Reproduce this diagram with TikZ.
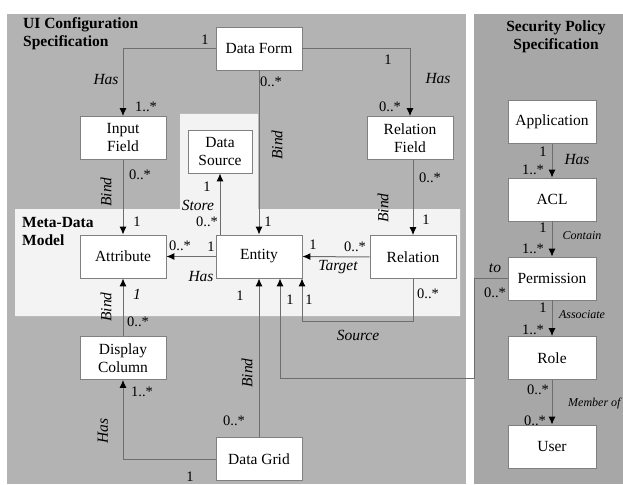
\documentclass[tikz,border=0pt]{standalone}
\usepackage{fontspec}
\setmainfont{Liberation Serif}
\usetikzlibrary{arrows.meta}
\definecolor{panelL}{HTML}{B3B3B3}
\definecolor{panelR}{HTML}{A7A7A7}
\definecolor{lightC}{HTML}{F3F3F3}
\definecolor{lineC}{HTML}{6E6E6E}
\definecolor{boxC}{HTML}{808080}
\begin{document}
\begin{tikzpicture}[x=1pt,y=-1pt,
  box/.style={draw=boxC,line width=0.8pt,fill=white,rectangle,minimum width=86pt,minimum height=43pt,inner sep=0pt,align=center,font=\fontsize{15.5}{18}\selectfont},
  conn/.style={draw=lineC,line width=1pt,-{Latex[length=8pt,width=7pt,color=black]}},
  mult/.style={inner sep=0pt,font=\fontsize{14.5}{16}\selectfont},
  lab/.style={inner sep=0pt,font=\fontsize{15.5}{16}\selectfont\itshape},
  slab/.style={inner sep=0pt,font=\fontsize{12}{14}\selectfont\itshape},
  ttl/.style={inner sep=0pt,font=\fontsize{15.5}{18}\selectfont\bfseries}]
\useasboundingbox (0,0) rectangle (623,484);
\fill[white] (0,0) rectangle (623,484);
\fill[panelL] (7,14) rectangle (466,484);
\fill[panelR] (474,14) rectangle (623,484);
\fill[lightC] (15,209) -- (180,209) -- (180,114) -- (258,114) -- (258,209) -- (460,209) -- (460,316) -- (15,316) -- cycle;

\node[ttl,anchor=west,align=left] (t1) at (23,34) {UI Configuration\\Specification};
\node[ttl,align=center] (t2) at (556,37) {Security Policy\\Specification};
\node[ttl,anchor=west,align=left] (t3) at (22,231) {Meta-Data\\Model};

\node[box] (DF) at (259,48.5) {Data Form};
\node[box] (IF) at (123,138) {Input\\Field};
\node[box,minimum width=64pt] (DS) at (220,151.5) {Data\\Source};
\node[box] (RF) at (410,138) {Relation\\Field};
\node[box] (Attr) at (123,256.5) {Attribute};
\node[box] (Ent) at (259,256.5) {Entity};
\node[box] (Rel) at (413,257) {Relation};
\node[box] (DC) at (123,358) {Display\\Column};
\node[box] (DG) at (259,459) {Data Grid};
\node[box,minimum width=88pt] (App) at (552,122) {Application};
\node[box,minimum width=88pt] (ACL) at (552,199.5) {ACL};
\node[box,minimum width=88pt] (Perm) at (552,278.5) {Permission};
\node[box,minimum width=88pt] (Role) at (552,358) {Role};
\node[box,minimum width=88pt] (User) at (552,446.5) {User};

\coordinate (srcB) at (302,321);
\coordinate (permB) at (474,378.5);
\coordinate (permC) at (280,378.5);

\draw[conn] (DF.west) -| (IF.north);
\draw[conn] (DF.east) -| (RF.north);
\draw[conn] (DF.south) -- (Ent.north);
\draw[conn] (IF.south) -- (Attr.north);
\draw[conn] (RF.south -| Rel.north) -- (Rel.north);
\draw[conn] (Ent.west) -- (Attr.east);
\draw[conn] (Ent.north -| DS.south) -- (DS.south);
\draw[conn] (Rel.west) -- (Ent.east);
\draw[conn] (Rel.south) |- (srcB) -- (srcB |- Ent.south);
\draw[conn] (Perm.west) -| (permB) -- (permC) -- (permC |- Ent.south);
\draw[conn] (DG.north) -- (Ent.south);
\draw[conn] (DG.west) -| (DC.south);
\draw[conn] (DC.north) -- (Attr.south);
\draw[conn] (App.south) -- (ACL.north);
\draw[conn] (ACL.south) -- (Perm.north);
\draw[conn] (Perm.south) -- (Role.north);
\draw[conn] (Role.south) -- (User.north);

% Data Form -> Input Field
\node[mult] (l1) at (205,40) {1};
\node[lab] (l2) at (106,80) {Has};
\node[mult] (l3) at (146,107) {1..*};
% Data Form -> Relation Field
\node[mult] (l4) at (388,60) {1};
\node[lab] (l5) at (438,79) {Has};
\node[mult] (l6) at (390,107) {0..*};
% Data Form -> Entity
\node[mult] (l7) at (271,82) {0..*};
\node[lab,rotate=90] (l8) at (277,145) {Bind};
\node[mult] (l9) at (268,222) {1};
% Input Field -> Attribute
\node[mult] (l10) at (140,175) {0..*};
\node[lab,rotate=90] (l11) at (106,192) {Bind};
\node[mult] (l12) at (137,222) {1};
% Entity -> Data Source
\node[mult] (l13) at (207,187) {1};
\node[lab] (l14) at (198,205) {Store};
\node[mult] (l15) at (207,222) {0..*};
% Entity -> Attribute
\node[mult] (l16) at (180,246) {0..*};
\node[mult] (l17) at (211,247) {1};
\node[lab] (l18) at (201,277) {Has};
% Relation -> Entity
\node[mult] (l19) at (313,245) {1};
\node[mult] (l20) at (355,247) {0..*};
\node[lab] (l21) at (338,267) {Target};
% Relation Field -> Relation
\node[mult] (l22) at (430,178) {0..*};
\node[lab,rotate=90] (l23) at (383,208) {Bind};
\node[mult] (l24) at (426,220) {1};
% Source
\node[mult] (l25) at (428,294) {0..*};
\node[lab] (l26) at (358,335) {Source};
\node[mult] (l27) at (309,300) {1};
% Permission -> Entity
\node[lab] (l28) at (495,268) {to};
\node[mult] (l29) at (495,293) {0..*};
\node[mult] (l30) at (290,300) {1};
% Data Grid -> Entity
\node[mult] (l31) at (240,296) {1};
\node[lab,rotate=90] (l32) at (247,373) {Bind};
\node[mult] (l33) at (234,421) {0..*};
% Data Grid -> Display Column
\node[mult] (l34) at (142,392) {1..*};
\node[lab,rotate=90] (l35) at (103,431) {Has};
\node[mult] (l36) at (190,477) {1};
% Display Column -> Attribute
\node[lab] (l37) at (137,294) {1};
\node[lab,rotate=90] (l38) at (106,307) {Bind};
\node[mult] (l39) at (138,322) {0..*};
% Right panel
\node[mult] (r1) at (543,152) {1};
\node[lab] (r2) at (577,160) {Has};
\node[mult] (r3) at (533,170) {1..*};
\node[mult] (r4) at (543,228) {1};
\node[slab] (r5) at (582,236) {Contain};
\node[mult] (r6) at (533,249) {1..*};
\node[mult] (r7) at (543,308) {1};
\node[slab] (r8) at (582,315) {Associate};
\node[mult] (r9) at (533,330) {1..*};
\node[mult] (r10) at (538,390) {0..*};
\node[slab,anchor=west] (r11) at (568,404) {Member of};
\node[mult] (r12) at (535,421) {0..*};
\end{tikzpicture}
\end{document}
